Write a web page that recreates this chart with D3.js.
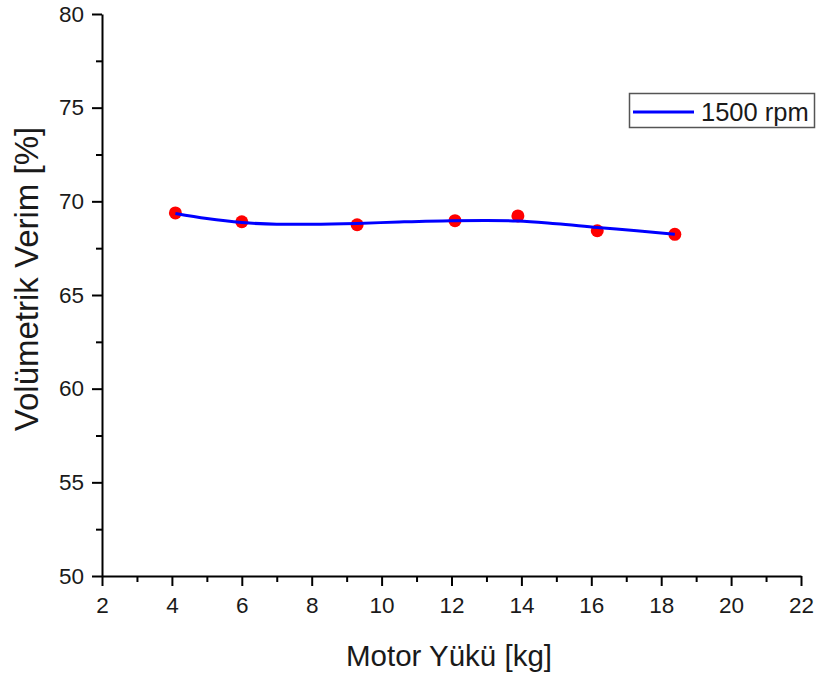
<!DOCTYPE html>
<html>
<head>
<meta charset="utf-8">
<script src="https://cdn.jsdelivr.net/npm/d3@7"></script>
<style>
  html, body { margin: 0; padding: 0; background: #fff; }
  text { font-family: "Liberation Sans", Arial, sans-serif; fill: #1a1a1a; }
</style>
</head>
<body>
<svg id="chart" width="819" height="675"></svg>
<script>
// Measured points (Motor load [kg], volumetric efficiency [%])
const loads = [4.1, 6.0, 9.3, 12.1, 13.9, 16.17, 18.39];
const efficiency = [69.38, 68.91, 68.75, 68.97, 69.22, 68.43, 68.24];

// Fitted curve
const fitLoads = [4.1, 5.0, 6.0, 7.0, 8.0, 9.3, 10.5, 12.0, 13.0, 13.9, 15.0, 16.17, 17.3, 18.39];
const fitValues = [69.35, 69.08, 68.87, 68.78, 68.78, 68.82, 68.90, 68.97, 68.98, 68.95, 68.80, 68.60, 68.43, 68.24];

const xTicks = [2, 4, 6, 8, 10, 12, 14, 16, 18, 20, 22];
const xMinor = [3, 5, 7, 9, 11, 13, 15, 17, 19, 21];
const yTicks = [50, 55, 60, 65, 70, 75, 80];
const yMinor = [52.5, 57.5, 62.5, 67.5, 72.5, 77.5];

const seriesName = "1500 rpm";
const xTitle = "Motor Yükü [kg]";
const yTitle = "Volümetrik Verim [%]";

const svg = d3.select("#chart");
const x = d3.scaleLinear().domain([2, 22]).range([102, 801]);
const y = d3.scaleLinear().domain([50, 80]).range([576, 14]);

// Minor ticks
svg.append("g").attr("transform", `translate(0,${y(50)})`)
  .call(d3.axisBottom(x).tickValues(xMinor).tickSize(6).tickFormat(""))
  .call(g => g.select(".domain").remove())
  .call(g => g.selectAll("line").attr("stroke", "#000").attr("stroke-width", 2));
svg.append("g").attr("transform", `translate(${x(2)},0)`)
  .call(d3.axisLeft(y).tickValues(yMinor).tickSize(6).tickFormat(""))
  .call(g => g.select(".domain").remove())
  .call(g => g.selectAll("line").attr("stroke", "#000").attr("stroke-width", 2));

// Major axes
const xAxis = svg.append("g").attr("transform", `translate(0,${y(50)})`)
  .call(d3.axisBottom(x).tickValues(xTicks).tickSize(10).tickSizeOuter(0).tickPadding(11).tickFormat(d3.format("d")));
const yAxis = svg.append("g").attr("transform", `translate(${x(2)},0)`)
  .call(d3.axisLeft(y).tickValues(yTicks).tickSize(10).tickSizeOuter(0).tickPadding(8).tickFormat(d3.format("d")));
[xAxis, yAxis].forEach(g => {
  g.select(".domain").attr("stroke", "#000").attr("stroke-width", 2);
  g.selectAll("line").attr("stroke", "#000").attr("stroke-width", 2);
  g.selectAll("text").attr("font-size", 22.5).attr("fill", "#1a1a1a")
    .attr("font-family", "Liberation Sans, Arial, sans-serif");
});

// Axis titles
svg.append("text").attr("x", 449).attr("y", 666).attr("text-anchor", "middle")
  .attr("font-size", 29.5).text(xTitle);
svg.append("text").attr("transform", `translate(38,279) rotate(-90)`)
  .attr("text-anchor", "middle").attr("font-size", 33).text(yTitle);

// Points
svg.append("g").selectAll("circle").data(loads.map((d, i) => [d, efficiency[i]]))
  .join("circle")
  .attr("cx", d => x(d[0])).attr("cy", d => y(d[1])).attr("r", 6.5)
  .attr("fill", "#ff0000");

// Fitted curve
const line = d3.line().x(d => x(d[0])).y(d => y(d[1])).curve(d3.curveMonotoneX);
svg.append("path").datum(fitLoads.map((d, i) => [d, fitValues[i]]))
  .attr("d", line).attr("fill", "none").attr("stroke", "#0000ff").attr("stroke-width", 3);

// Legend
const lg = svg.append("g");
lg.append("rect").attr("x", 629.5).attr("y", 93.5).attr("width", 185).attr("height", 34)
  .attr("fill", "#fff").attr("stroke", "#555").attr("stroke-width", 1.5);
lg.append("line").attr("x1", 633).attr("x2", 694).attr("y1", 112).attr("y2", 112)
  .attr("stroke", "#0000ff").attr("stroke-width", 3);
lg.append("text").attr("x", 701).attr("y", 121).attr("font-size", 25.5).text(seriesName);
</script>
</body>
</html>
